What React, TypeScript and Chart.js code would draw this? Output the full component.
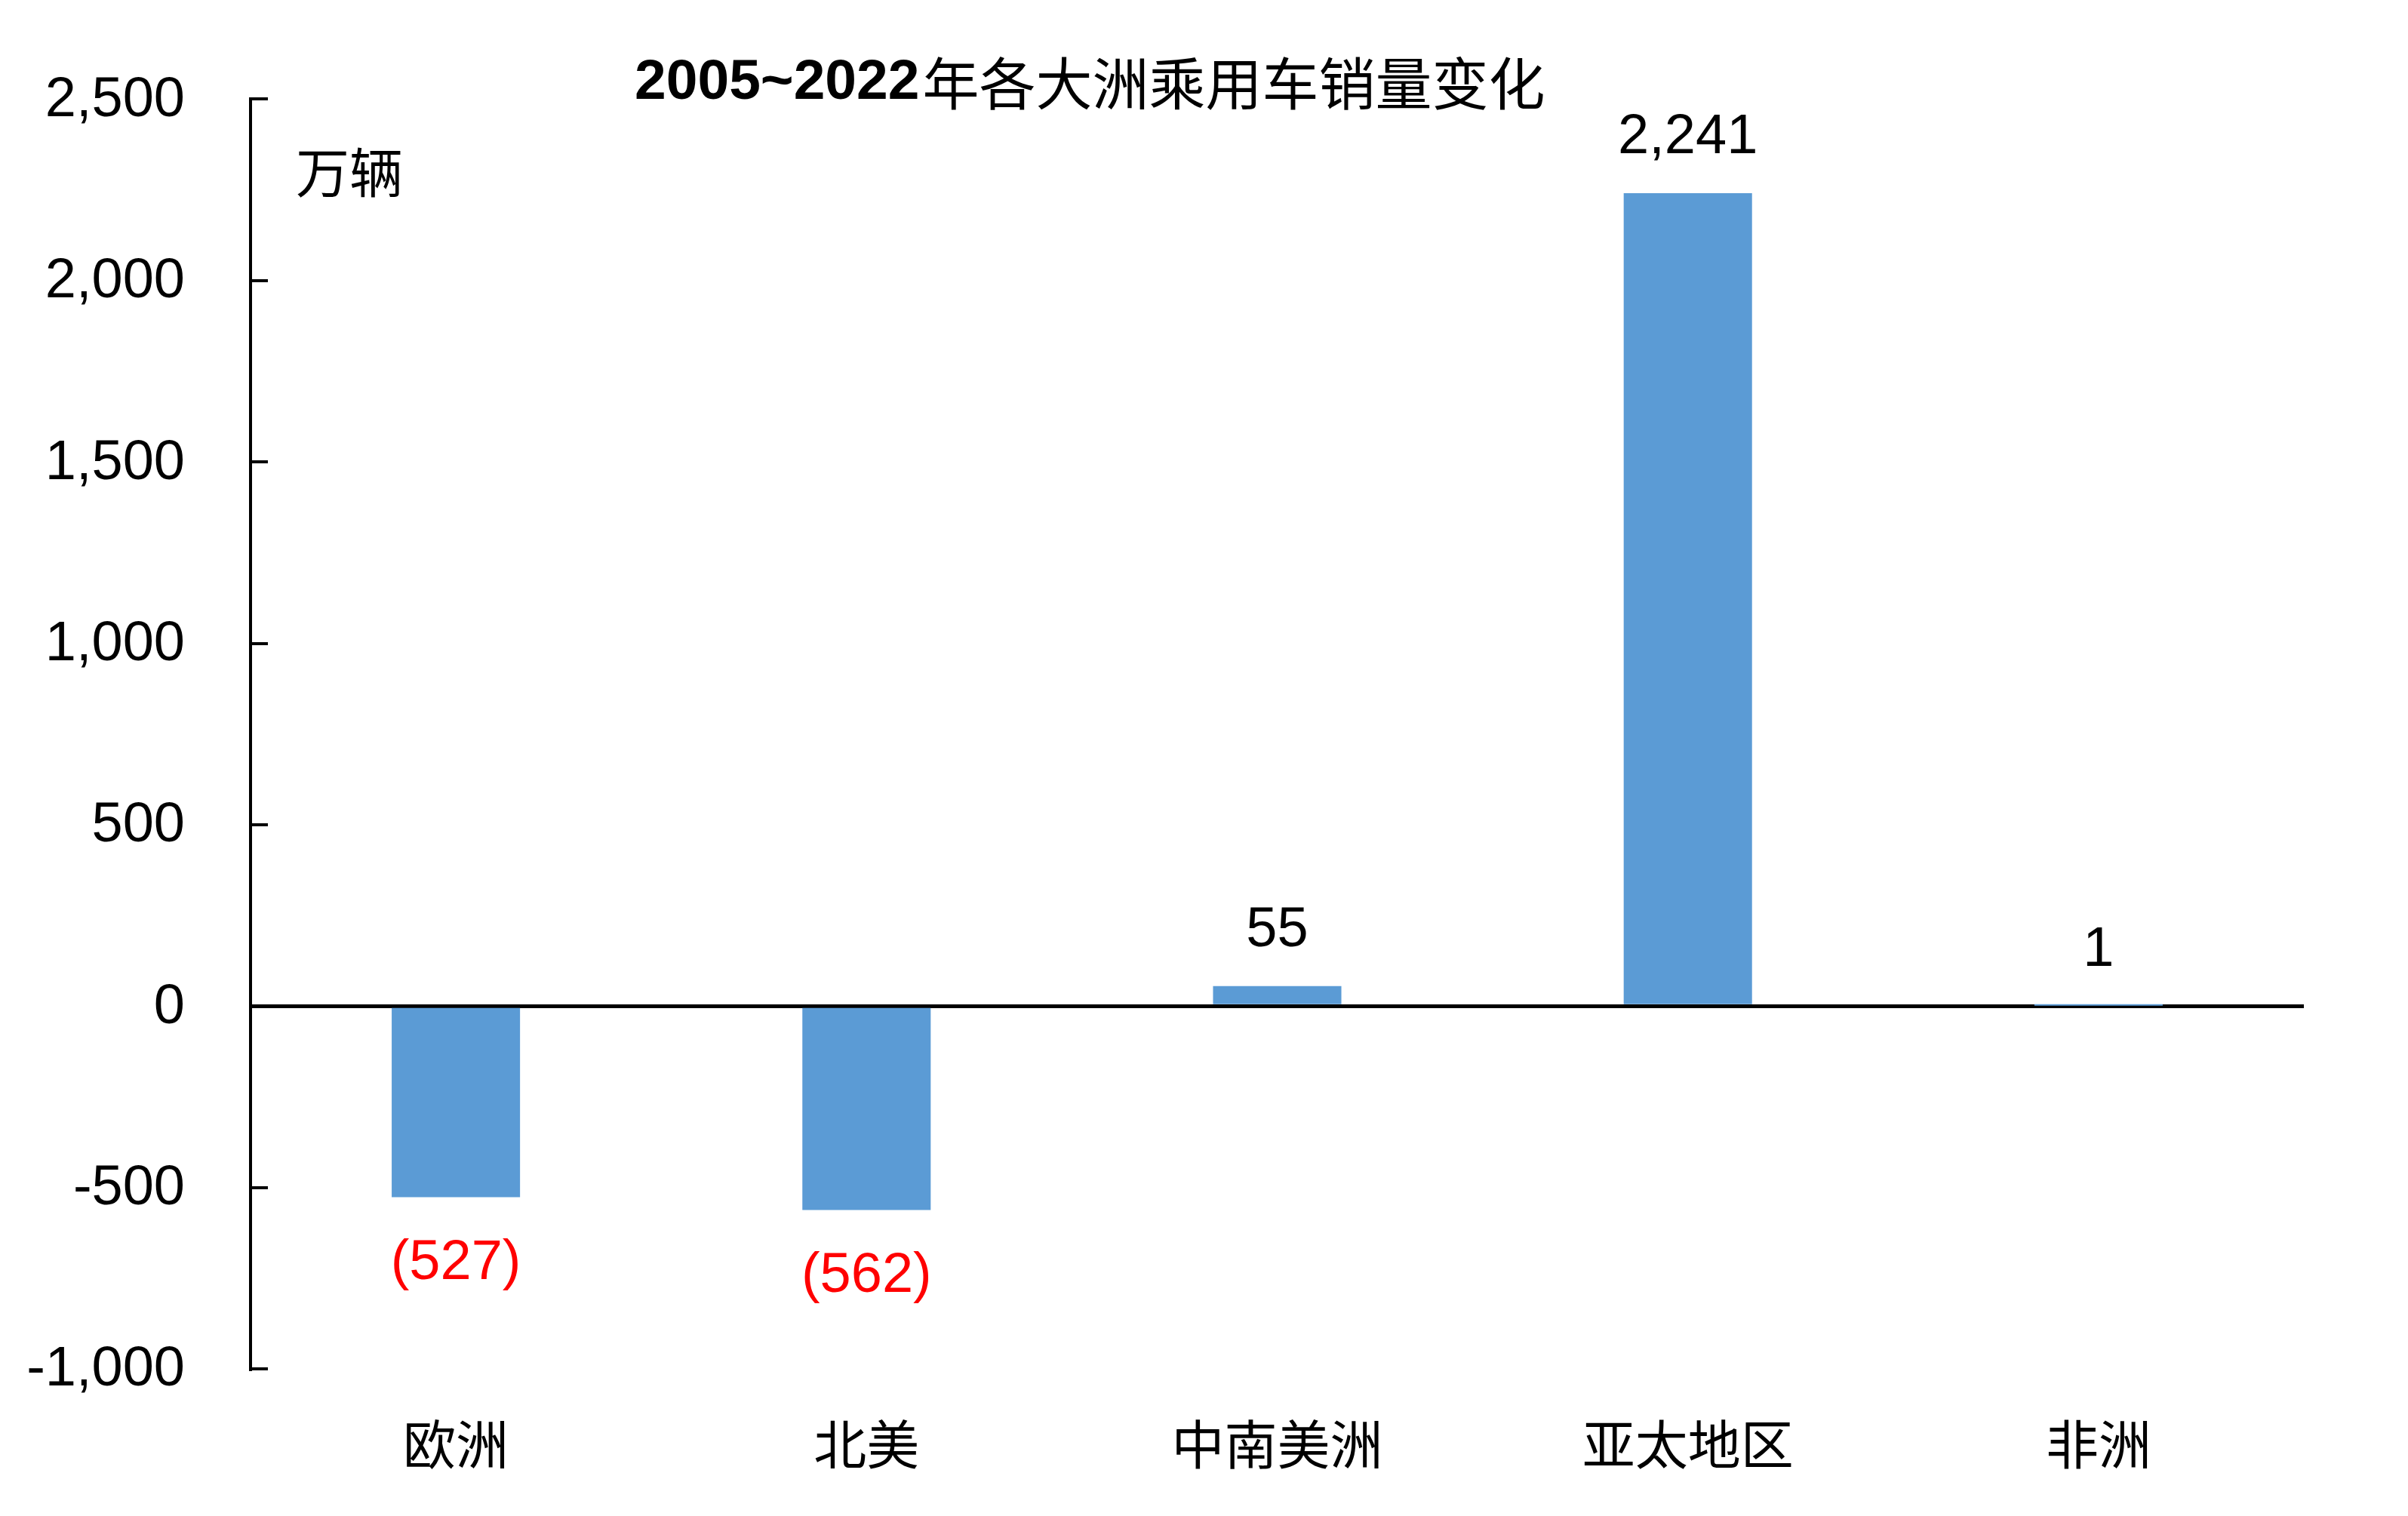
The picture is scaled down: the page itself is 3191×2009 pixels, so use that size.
import React, { useEffect, useRef } from 'react';
import { Chart, registerables } from 'chart.js';

Chart.register(...registerables);

const categories = ['欧洲', '北美', '中南美洲', '亚太地区', '非洲'];
const salesChange = [-527, -562, 55, 2241, 1];
const yMin = -1000;
const yMax = 2500;
const yStep = 500;
const titleNum = '2005~2022';
const titleText = '年各大洲乘用车销量变化';
const unitLabel = '万辆';

const W = 3191;
const H = 2009;
const LATIN = '"Liberation Sans", Arial, sans-serif';
const CJK = '"Noto Sans CJK SC", "Noto Sans", sans-serif';
const BAR_BLUE = '#5B9BD5';

const fmt = (v: number) => Math.abs(v).toLocaleString('en-US');

const overlay = {
  id: 'overlay',
  afterDraw(chart: any) {
    const { ctx, chartArea } = chart;
    const meta = chart.getDatasetMeta(0);
    ctx.save();
    // value labels
    ctx.font = `74px ${LATIN}`;
    ctx.textAlign = 'center';
    ctx.textBaseline = 'middle';
    meta.data.forEach((bar: any, i: number) => {
      const v = salesChange[i];
      const neg = v < 0;
      ctx.fillStyle = neg ? '#FF0000' : '#000000';
      const txt = neg ? `(${fmt(v)})` : fmt(v);
      const y = neg ? bar.y + 88 : bar.y - 73;
      ctx.fillText(txt, bar.x, y);
    });
    // inward tick marks on y axis
    const ys = chart.scales.y;
    ctx.strokeStyle = '#000';
    ctx.lineWidth = 4;
    ys.ticks.forEach((t: any) => {
      const py = Math.round(ys.getPixelForValue(t.value));
      ctx.beginPath();
      ctx.moveTo(chartArea.left, py);
      ctx.lineTo(chartArea.left + 23, py);
      ctx.stroke();
    });
    // title
    ctx.fillStyle = '#000';
    ctx.textAlign = 'left';
    ctx.textBaseline = 'middle';
    ctx.font = `bold 75px ${LATIN}`;
    const tx = 841;
    const ty = 110;
    ctx.fillText(titleNum, tx, ty);
    const w = ctx.measureText(titleNum).width;
    ctx.font = `75px ${CJK}`;
    ctx.fillText(titleText, tx + w + 4, ty);
    // unit
    ctx.font = `71px ${CJK}`;
    ctx.textAlign = 'center';
    ctx.fillText(unitLabel, 463, 228);
    ctx.restore();
  },
};

export default function App() {
  const ref = useRef<HTMLCanvasElement>(null);
  useEffect(() => {
    const chart = new Chart(ref.current as HTMLCanvasElement, {
      type: 'bar',
      data: {
        labels: categories,
        datasets: [
          {
            data: salesChange,
            backgroundColor: BAR_BLUE,
            borderWidth: 0,
            categoryPercentage: 1,
            barPercentage: 0.3125,
          },
        ],
      },
      options: {
        responsive: false,
        animation: false,
        layout: { padding: { left: 0, top: 130, right: 138, bottom: 0 } },
        plugins: {
          legend: { display: false },
          title: { display: false },
          tooltip: { enabled: false },
        },
        scales: {
          x: {
            grid: { display: false },
            border: { display: false },
            ticks: {
              color: '#000',
              padding: 50,
              font: { family: CJK, size: 70 },
            },
            afterFit: (s: any) => {
              s.height = 195;
            },
          },
          y: {
            min: yMin,
            max: yMax,
            z: 1,
            afterFit: (s: any) => {
              s.width = 332;
            },
            ticks: {
              stepSize: yStep,
              padding: 87,
              labelOffset: 2,
              color: '#000',
              font: { family: LATIN, size: 74 },
              callback: (v: any) => Number(v).toLocaleString('en-US'),
            },
            grid: {
              drawTicks: false,
              drawOnChartArea: true,
              color: (c: any) => (c.tick && c.tick.value === 0 ? '#000' : 'rgba(0,0,0,0)'),
              lineWidth: 5,
            },
            border: { display: true, color: '#000', width: 4 },
          },
        },
      },
      plugins: [overlay],
    } as any);
    return () => chart.destroy();
  }, []);
  return (
    <div style={{ position: 'fixed', left: 0, top: 0, width: W, height: H, background: '#fff' }}>
      <canvas ref={ref} width={W} height={H} style={{ width: W, height: H, display: 'block' }} />
    </div>
  );
}
